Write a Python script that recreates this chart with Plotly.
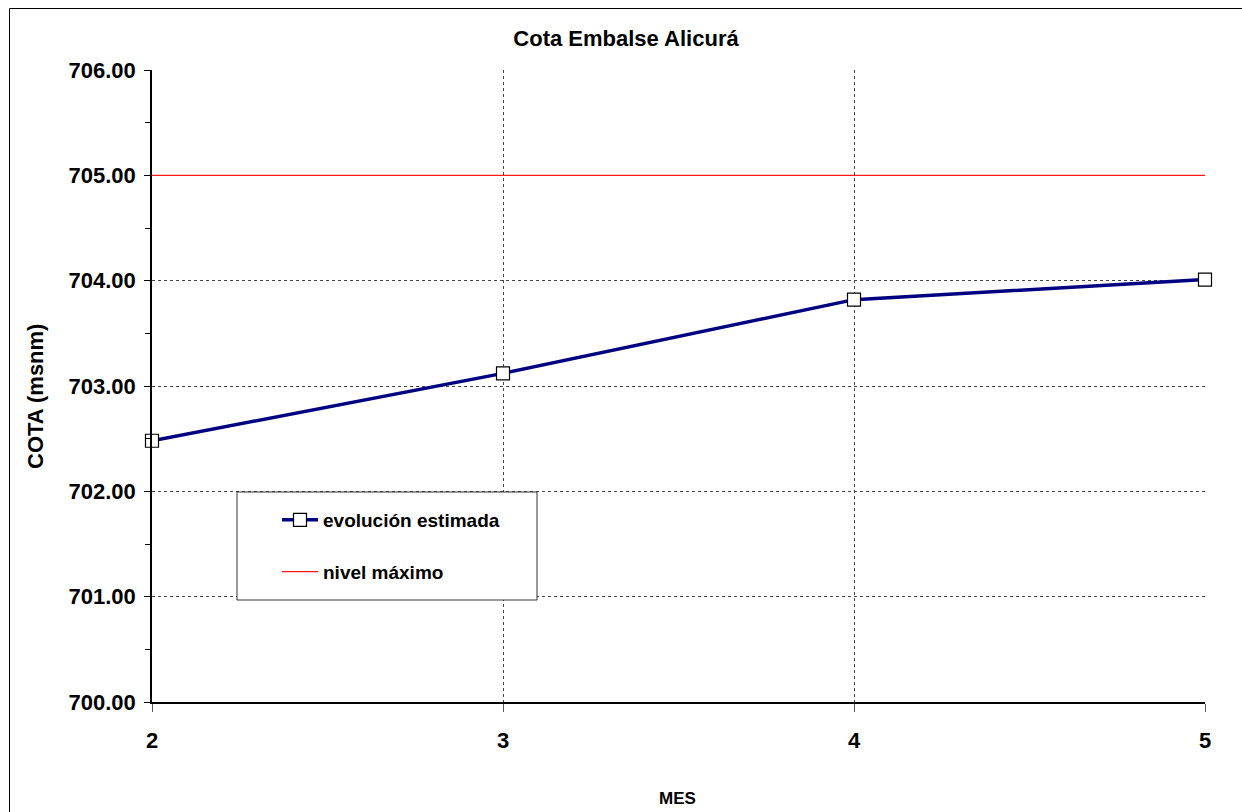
import plotly.graph_objects as go

# Reservoir level by month
meses = [2, 3, 4, 5]
cota_estimada = [702.48, 703.12, 703.82, 704.01]
nivel_maximo = [705.00, 705.00, 705.00, 705.00]

FONT = "Arial, Liberation Sans, sans-serif"

fig = go.Figure()

fig.add_trace(go.Scatter(
    x=meses, y=cota_estimada,
    name="<b>evolución estimada</b>",
    legendgroup="a",
    mode="lines+markers",
    line=dict(color="#000080", width=3.5),
    marker=dict(symbol="square", size=13, color="white",
                line=dict(color="black", width=1.2)),
    cliponaxis=False,
))

fig.add_trace(go.Scatter(
    x=meses, y=nivel_maximo,
    name="<b>nivel máximo</b>",
    legendgroup="b",
    mode="lines",
    line=dict(color="#ff1a1a", width=1.3),
    cliponaxis=False,
))

W, H = 1242, 812
L, R, T, B = 152, 37, 70, 110
pw, ph = W - L - R, H - T - B


def px_x(v):
    return (v - L) / pw


def px_y(v):
    return (H - B - v) / ph


# outer chart frame and legend box
fig.add_shape(type="rect", xref="paper", yref="paper",
              x0=px_x(9.5), x1=px_x(1300), y0=px_y(900), y1=px_y(8.5),
              line=dict(color="black", width=1), fillcolor="rgba(0,0,0,0)",
              layer="below")
fig.add_shape(type="rect", xref="paper", yref="paper",
              x0=px_x(237), x1=px_x(537), y0=px_y(600), y1=px_y(492),
              line=dict(color="#333333", width=1), fillcolor="white",
              layer="above")

# axis titles
fig.add_annotation(text="<b>COTA (msnm)</b>", xref="paper", yref="paper",
                   x=px_x(35), y=px_y(397), xanchor="center", yanchor="middle",
                   textangle=-90, showarrow=False,
                   font=dict(size=22, family=FONT, color="black"))
fig.add_annotation(text="<b>MES</b>", xref="paper", yref="paper",
                   x=px_x(677), y=px_y(798), xanchor="center", yanchor="middle",
                   showarrow=False,
                   font=dict(size=17, family=FONT, color="black"))

fig.update_layout(
    width=W, height=H,
    margin=dict(l=L, r=R, t=T, b=B),
    paper_bgcolor="white",
    plot_bgcolor="white",
    font=dict(family=FONT, color="black"),
    title=dict(text="<b>Cota Embalse Alicurá</b>", x=626 / W, xanchor="center",
               y=1 - 38 / H, yanchor="middle",
               font=dict(size=22, family=FONT, color="black")),
    showlegend=True,
    legend=dict(x=px_x(277), y=px_y(501), xanchor="left", yanchor="top",
                bgcolor="rgba(0,0,0,0)", borderwidth=0,
                font=dict(size=19, family=FONT, color="black"),
                tracegroupgap=24, traceorder="grouped",
                itemwidth=36),
)

fig.update_xaxes(
    range=[2, 5],
    tickvals=meses,
    ticktext=[f"<b>{m}</b>" for m in meses],
    tickfont=dict(size=22, family=FONT, color="black"),
    ticks="outside", ticklen=8, tickcolor="#555555", tickwidth=1,
    ticklabelstandoff=10,
    showline=True, linecolor="black", linewidth=1.5,
    showgrid=True, gridcolor="#444444", gridwidth=1, griddash="3px,3px",
    zeroline=False,
)

fig.update_yaxes(
    range=[700, 706],
    dtick=1,
    tickformat=".2f",
    tickprefix="<b>", ticksuffix="</b>",
    tickfont=dict(size=22, family=FONT, color="black"),
    ticks="outside", ticklen=6, tickcolor="black", tickwidth=1,
    ticklabelstandoff=4,
    minor=dict(dtick=0.5, ticks="outside", ticklen=5, tickcolor="black",
               showgrid=False),
    showline=True, linecolor="black", linewidth=1.5,
    showgrid=True, gridcolor="#444444", gridwidth=1, griddash="3px,3px",
    zeroline=False,
)

fig.write_html("out.html")
